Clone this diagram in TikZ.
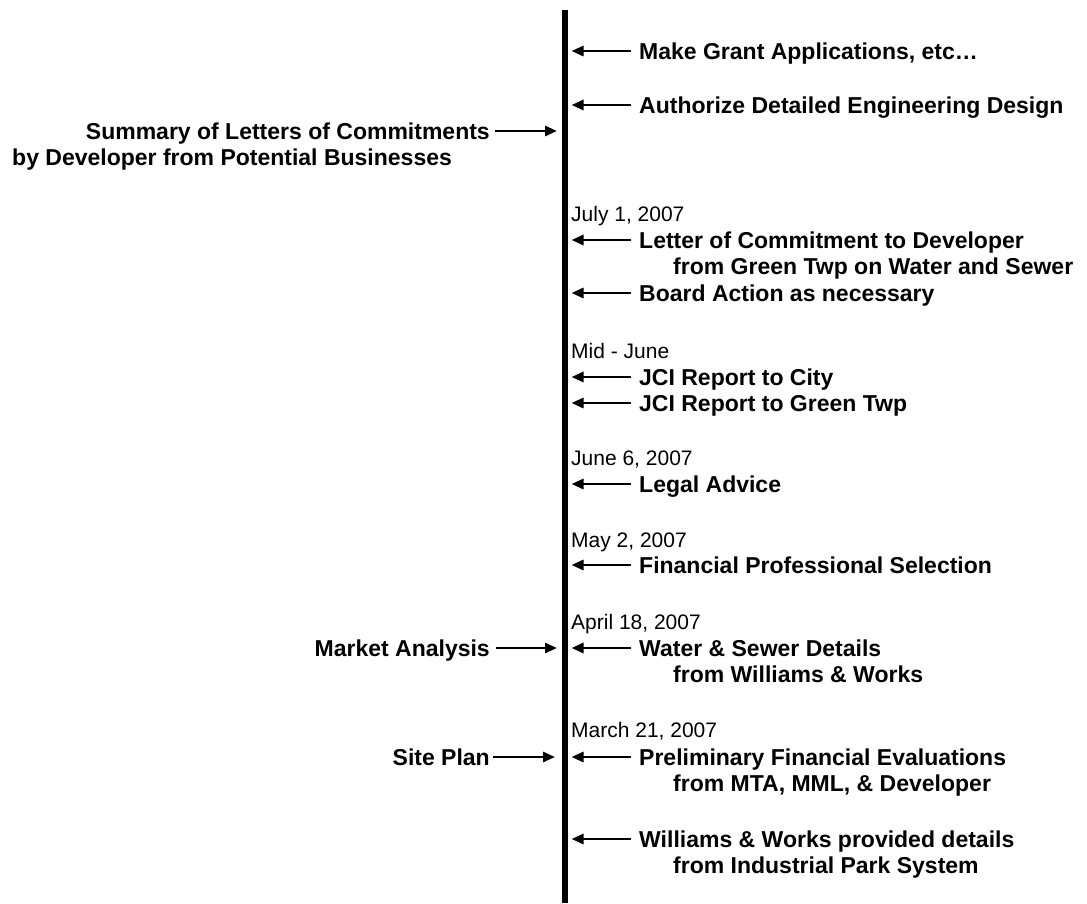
\documentclass[tikz,border=0pt]{standalone}
\usepackage{fontspec}
\setmainfont{Liberation Sans}
\usetikzlibrary{arrows.meta}
\begin{document}
\begin{tikzpicture}[x=1pt,y=-1pt,
  bold/.style={font=\fontsize{23}{26}\selectfont\bfseries, inner sep=0pt, text height=16.5pt, text depth=0pt, anchor=west},
  boldr/.style={bold, anchor=east},
  datelbl/.style={font=\fontsize{21}{24}\selectfont, inner sep=0pt, text height=15pt, text depth=0pt, anchor=west},
  arr/.style={line width=2.8pt, -{Triangle[length=12pt,width=10pt]}},
  axisline/.style={line width=5.5pt}]
\useasboundingbox (0,0) rectangle (1087,903);
\coordinate (axTop) at (565,10);
\coordinate (axBot) at (565,903);
\draw[axisline] (axTop) -- (axBot);
\coordinate (rtip) at (571.5,0);
\coordinate (ltip) at (557,0);
\coordinate (ltipb) at (555,0);

\node[bold] (make) at (639,51) {Make Grant Applications, etc…};
\node[bold] (auth) at (639,105) {Authorize Detailed Engineering Design};
\node[boldr] (summ) at (490,131) {Summary of Letters of Commitments};
\node[bold] (summ2) at (12,157) {by Developer from Potential Businesses};
\node[datelbl] (d1) at (571,214) {July 1, 2007};
\node[bold] (letter) at (639,240) {Letter of Commitment to Developer};
\node[bold] (letter2) at (673,266) {from Green Twp on Water and Sewer};
\node[bold] (board) at (639,293) {Board Action as necessary};
\node[datelbl] (d2) at (571,351) {Mid - June};
\node[bold] (jcicity) at (639,377) {JCI Report to City};
\node[bold] (jcigreen) at (639,403) {JCI Report to Green Twp};
\node[datelbl] (d3) at (571,458) {June 6, 2007};
\node[bold] (legal) at (639,484) {Legal Advice};
\node[datelbl] (d4) at (571,540) {May 2, 2007};
\node[bold] (fin) at (639,565) {Financial Professional Selection};
\node[datelbl] (d5) at (571,622) {April 18, 2007};
\node[bold] (water) at (639,648) {Water \& Sewer Details};
\node[bold] (water2) at (673,674) {from Williams \& Works};
\node[boldr] (market) at (490,648) {Market Analysis};
\node[datelbl] (d6) at (571,730) {March 21, 2007};
\node[bold] (prelim) at (639,757) {Preliminary Financial Evaluations};
\node[bold] (prelim2) at (673,783) {from MTA, MML, \& Developer};
\node[boldr] (site) at (490,757) {Site Plan};
\node[bold] (ww) at (639,839) {Williams \& Works provided details};
\node[bold] (ww2) at (673,865) {from Industrial Park System};

\foreach \n in {make,auth,letter,board,jcicity,jcigreen,legal,fin,water,prelim,ww}
  \draw[arr] ([xshift=-8pt]\n.west) -- (\n.west -| rtip);
\draw[arr] ([xshift=5pt]summ.east) -- (summ.east -| ltip);
\draw[arr] ([xshift=6pt]market.east) -- (market.east -| ltip);
\draw[arr] ([xshift=3pt]site.east) -- (site.east -| ltipb);
\end{tikzpicture}
\end{document}
